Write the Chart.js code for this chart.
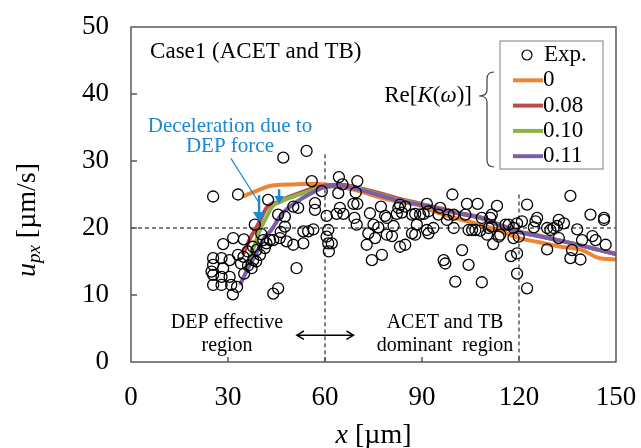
<!DOCTYPE html>
<html>
<head>
<meta charset="utf-8">
<script src="https://cdn.jsdelivr.net/npm/chart.js@4.4.1/dist/chart.umd.min.js"></script>
<style>
  body { margin: 0; background: #fff; }
  #wrap { width: 641px; height: 448px; }
</style>
</head>
<body>
<div id="wrap"><canvas id="myChart" width="641" height="448"></canvas></div>
<script>
// tick labels
const xTicks = [0, 30, 60, 90, 120, 150];
const yTicks = [0, 10, 20, 30, 40, 50];
const seriesLabels = ['Exp.', '0', '0.08', '0.10', '0.11'];

const expX = [25.4, 33.1, 25.4, 25.4, 24.9, 25.4, 25.4, 28.0, 28.5, 28.0, 28.0, 28.5, 30.5, 30.5, 31.0, 32.8, 31.5,
    31.6, 34.9, 33.1, 34.0, 35.0, 36.2, 37.3, 37.8, 34.8, 36.1, 37.7, 38.8, 39.9, 41.4, 38.7, 38.3, 40.3, 40.9,
    41.9, 43.0, 44.0, 46.0, 46.3, 48.1, 50.2, 53.3, 42.4, 47.1, 54.3, 55.9, 47.6, 47.6, 45.5, 50.2, 51.7, 51.2,
    44.0, 45.5, 53.3, 54.8, 56.4, 56.9, 56.9, 59.0,
    64.3, 65.4, 64.1, 70.0, 69.5, 68.8, 70.0, 64.6, 63.6, 65.7, 60.5, 69.1, 69.8, 73.9, 77.3, 78.6, 79.1, 75.0,
    76.5, 73.4, 75.5, 72.9, 79.1, 80.7, 81.2, 82.7, 82.2, 83.8, 83.2, 84.8, 86.9, 87.9, 89.4, 90.5, 88.4, 86.9,
    87.9, 83.2, 84.8, 74.5, 77.6, 61.0, 60.5, 61.0, 62.1, 61.2,
    99.4, 103.9, 107.2, 113.2, 91.5, 92.0, 95.6, 95.1, 98.2, 99.8, 97.7, 93.5, 92.0, 91.5, 99.8, 103.4, 108.5,
    111.1, 111.6, 111.6, 110.6, 104.4, 105.5, 106.5, 108.0, 110.1, 114.2, 113.7, 115.8, 116.8, 119.4, 118.3,
    118.3, 112.0, 102.4, 96.7, 97.2, 104.4, 117.5, 100.3, 108.5, 119.4, 135.9, 122.5, 120.9, 125.6, 125.1,
    124.6, 128.7, 129.7, 130.7, 131.8, 132.3, 133.9, 132.3, 128.7, 138.0, 139.5, 142.1, 142.7, 143.7, 146.3,
    146.3, 146.8, 136.4, 135.9, 139.0, 122.5, 119.4, 119.9];
const expY = [24.7, 25.0, 15.5, 14.5, 13.5, 13.0, 11.5, 15.5, 14.0, 12.7, 11.5, 17.6, 15.2, 12.7, 11.5, 11.2, 10.1,
    18.5, 18.3, 16.0, 14.7, 13.2, 14.4, 14.0, 15.2, 15.7, 16.5, 17.2, 16.7, 16.0, 17.0, 15.0, 20.5, 19.1, 18.2,
    17.7, 18.2, 18.2, 18.5, 19.4, 18.0, 17.5, 17.7, 24.2, 30.5, 31.5, 27.0, 21.7, 20.2, 22.0, 23.2, 23.0, 14.0,
    10.2, 11.0, 19.5, 19.5, 19.8, 23.7, 22.7, 25.5,
    27.6, 26.5, 25.2, 27.0, 25.3, 23.6, 23.6, 23.0, 22.1, 22.1, 21.8, 21.5, 20.5, 22.2, 23.2, 21.8, 21.5, 20.5,
    20.1, 19.2, 18.5, 17.5, 19.0, 18.8, 20.3, 23.0, 22.1, 22.3, 23.5, 23.2, 22.0, 22.1, 22.0, 22.1, 20.5, 19.2,
    19.0, 17.2, 17.5, 15.2, 16.0, 19.7, 18.7, 17.7, 17.7, 16.5,
    25.0, 23.6, 23.6, 23.3, 23.6, 22.5, 23.0, 22.0, 22.0, 22.0, 21.2, 20.0, 19.2, 19.7, 20.0, 22.0, 21.5,
    21.5, 22.0, 20.2, 20.0, 19.7, 19.7, 19.7, 19.6, 19.0, 19.0, 18.7, 20.5, 20.5, 20.7, 20.0,
    18.5, 17.6, 16.7, 15.2, 14.7, 14.5, 15.8, 12.0, 11.9, 13.2, 24.8, 23.5, 21.0, 21.5, 21.0,
    20.1, 20.0, 19.7, 20.0, 20.3, 21.2, 20.7, 18.5, 16.8, 19.8, 18.2, 22.0, 18.8, 18.2, 21.5,
    21.2, 17.5, 16.7, 15.5, 15.3, 11.0, 16.2, 18.7];

// simulation curves, Re[K(w)] = 0, 0.08, 0.10, 0.11
const k0X = [34.6, 38, 43.4, 50, 56, 60, 65, 70, 76, 82, 89, 92.5, 98, 104, 108, 114, 120, 126, 133, 139.5, 143.7, 146, 150];
const k0Y = [24.7, 25.4, 26.3, 26.5, 26.6, 26.5, 26.1, 25.6, 24.7, 24.0, 23.4, 22.7, 21.8, 21.0, 20.5, 19.6, 18.5, 17.9, 17.2, 16.7, 15.7, 15.4, 15.3];
const k008X = [34.6, 37, 39.5, 41.9, 43.5, 46, 48.1, 52, 56.9, 62, 66, 70, 76, 82, 88, 92.5, 100, 108, 114, 120, 126, 133.8, 140, 145, 150];
const k008Y = [16.0, 18.6, 20.7, 23.0, 23.6, 23.9, 24.5, 25.2, 26.0, 26.4, 26.4, 26.0, 25.3, 24.5, 23.8, 23.3, 22.4, 21.6, 20.5, 19.5, 18.9, 18.0, 17.3, 16.7, 16.1];
const k010X = [35.2, 37.5, 40, 42.3, 43.5, 46, 50.2, 54, 58, 62, 66, 70, 76, 82, 88, 92.5, 100, 108, 114, 120, 126, 133.8, 140, 145, 150];
const k010Y = [13.7, 16.5, 19.8, 22.0, 23.1, 23.9, 24.7, 25.3, 25.9, 26.2, 26.2, 25.9, 25.1, 24.3, 23.7, 23.2, 22.3, 21.5, 20.4, 19.4, 18.8, 18.0, 17.3, 16.7, 16.1];
const k011X = [33.7, 36.5, 38.2, 41, 43.4, 46.5, 50.6, 55.8, 60.4, 64, 70, 76, 82, 88, 92.5, 100, 108, 114, 120, 126, 133.8, 140, 145, 150];
const k011Y = [11.5, 14.3, 15.7, 18.4, 19.7, 22.0, 23.7, 25.2, 26.2, 26.3, 25.8, 25.0, 24.2, 23.6, 23.2, 22.3, 21.5, 20.4, 19.4, 18.8, 18.0, 17.3, 16.7, 16.1];

const SERIF = '"Liberation Serif", "Times New Roman", serif';
const BLUE = '#1b88d4';
const lineColors = ['#ef8432', '#be4b48', '#8db347', '#7b5ea7'];

function pts(xs, ys) {
    return xs.map((x, i) => ({ x: x, y: ys[i] }));
}

// draws pieces of text with different fonts one after the other
function richText(ctx, parts, x, y, align) {
    let w = 0;
    parts.forEach(p => { ctx.font = p.f; p.w = ctx.measureText(p.t).width; w += p.w; });
    let cx = x;
    if (align === 'center') cx = x - w / 2;
    if (align === 'right') cx = x - w;
    ctx.textAlign = 'left';
    ctx.textBaseline = 'middle';
    parts.forEach(p => { ctx.font = p.f; ctx.fillText(p.t, cx, y + (p.dy || 0)); cx += p.w; });
}

function arrowHead(ctx, x, y, dir, size, filled) {
    // dir: angle the arrow points to
    ctx.save();
    ctx.translate(x, y);
    ctx.rotate(dir);
    ctx.beginPath();
    ctx.moveTo(-size, -size * 0.6);
    ctx.lineTo(0, 0);
    ctx.lineTo(-size, size * 0.6);
    if (filled) { ctx.closePath(); ctx.fill(); } else { ctx.stroke(); }
    ctx.restore();
}

// keep the tick labels from pushing the plot area around
function noPad(s) {
    s.paddingLeft = 0;
    s.paddingRight = 0;
    s.paddingTop = 0;
    s.paddingBottom = 0;
}

const backPlugin = {
    id: 'back',
    beforeDatasetsDraw(chart) {
        const ctx = chart.ctx;
        const xs = chart.scales.x, ys = chart.scales.y;
        ctx.save();
        ctx.strokeStyle = '#000';
        ctx.lineWidth = 1;
        ctx.setLineDash([4, 3]);
        ctx.beginPath();
        ctx.moveTo(xs.getPixelForValue(0), ys.getPixelForValue(20));
        ctx.lineTo(xs.getPixelForValue(150), ys.getPixelForValue(20));
        ctx.moveTo(xs.getPixelForValue(60), ys.getPixelForValue(31));
        ctx.lineTo(xs.getPixelForValue(60), ys.getPixelForValue(0));
        ctx.moveTo(xs.getPixelForValue(120), ys.getPixelForValue(25));
        ctx.lineTo(xs.getPixelForValue(120), ys.getPixelForValue(0));
        ctx.stroke();
        ctx.restore();
    }
};

const frontPlugin = {
    id: 'front',
    afterDraw(chart) {
        const ctx = chart.ctx;
        const a = chart.chartArea;
        const xs = chart.scales.x, ys = chart.scales.y;
        const px = v => xs.getPixelForValue(v);
        const py = v => ys.getPixelForValue(v);
        ctx.save();

        // frame and inward ticks
        ctx.strokeStyle = '#595959';
        ctx.lineWidth = 1.5;
        ctx.strokeRect(a.left, a.top, a.right - a.left, a.bottom - a.top);
        ctx.beginPath();
        for (let i = 1; i < yTicks.length - 1; i++) {
            ctx.moveTo(a.left, py(yTicks[i]));
            ctx.lineTo(a.left + 6, py(yTicks[i]));
        }
        for (let i = 1; i < xTicks.length - 1; i++) {
            ctx.moveTo(px(xTicks[i]), a.bottom);
            ctx.lineTo(px(xTicks[i]), a.bottom - 5);
        }
        ctx.stroke();

        // axis titles
        ctx.fillStyle = '#000';
        richText(ctx, [
            { t: 'x', f: 'italic 28px ' + SERIF },
            { t: ' [µm]', f: '28px ' + SERIF }
        ], (a.left + a.right) / 2, 436, 'center');
        ctx.save();
        ctx.translate(28, 220);
        ctx.rotate(-Math.PI / 2);
        richText(ctx, [
            { t: 'u', f: 'italic 28px ' + SERIF },
            { t: 'px', f: 'italic 19px ' + SERIF, dy: 7 },
            { t: ' [µm/s]', f: '28px ' + SERIF }
        ], 0, 0, 'center');
        ctx.restore();

        // case label
        ctx.font = '23px ' + SERIF;
        ctx.textAlign = 'left';
        ctx.textBaseline = 'middle';
        ctx.fillText('Case1 (ACET and TB)', px(5.9), py(46.3));

        // region labels
        ctx.font = '20px ' + SERIF;
        ctx.textAlign = 'center';
        ctx.fillText('DEP effective', px(29.7), py(5.8));
        ctx.fillText('region', px(29.7), py(2.5));
        ctx.fillText('ACET and TB', px(97.1), py(5.8));
        ctx.fillText('dominant  region', px(97.1), py(2.5));
        ctx.strokeStyle = '#000';
        ctx.lineWidth = 1.5;
        ctx.beginPath();
        ctx.moveTo(px(51.3), py(4));
        ctx.lineTo(px(68.8), py(4));
        ctx.stroke();
        arrowHead(ctx, px(51.3), py(4), Math.PI, 7, false);
        arrowHead(ctx, px(68.8), py(4), 0, 7, false);

        // deceleration note
        ctx.fillStyle = BLUE;
        ctx.strokeStyle = BLUE;
        ctx.font = '21px ' + SERIF;
        ctx.textAlign = 'center';
        ctx.fillText('Deceleration due to', px(30.6), py(35.2));
        ctx.fillText('DEP force', px(30.6), py(32.1));
        ctx.lineWidth = 1.2;
        ctx.beginPath();
        ctx.moveTo(px(30.9), py(30.4));
        ctx.lineTo(px(39.3), py(24.0));
        ctx.stroke();
        ctx.lineWidth = 2.5;
        ctx.beginPath();
        ctx.moveTo(px(39.6), py(24.9));
        ctx.lineTo(px(39.6), py(22.2));
        ctx.moveTo(px(45.8), py(25.8));
        ctx.lineTo(px(45.8), py(24.5));
        ctx.stroke();
        arrowHead(ctx, px(39.6), py(20.9), Math.PI / 2, 10, true);
        arrowHead(ctx, px(45.8), py(23.6), Math.PI / 2, 8, true);

        // legend
        const lx = a.right - 116, ly = a.top + 14;
        ctx.strokeStyle = '#7f7f7f';
        ctx.lineWidth = 1;
        ctx.strokeRect(lx, ly, 103, 128);
        ctx.fillStyle = '#000';
        ctx.strokeStyle = '#000';
        ctx.lineWidth = 1.2;
        ctx.beginPath();
        ctx.arc(lx + 27, ly + 14, 5, 0, Math.PI * 2);
        ctx.stroke();
        ctx.font = '23px ' + SERIF;
        ctx.textAlign = 'left';
        ctx.fillText(seriesLabels[0], lx + 44, ly + 14);
        for (let i = 1; i < seriesLabels.length; i++) {
            const yy = ly + 14 + i * 25.3;
            ctx.strokeStyle = lineColors[i - 1];
            ctx.lineWidth = 4;
            ctx.beginPath();
            ctx.moveTo(lx + 13, yy);
            ctx.lineTo(lx + 43, yy);
            ctx.stroke();
            ctx.fillText(seriesLabels[i], lx + 43, yy);
        }

        // Re[K(w)] and brace
        richText(ctx, [
            { t: 'Re[', f: '23px ' + SERIF },
            { t: 'K', f: 'italic 23px ' + SERIF },
            { t: '(', f: '23px ' + SERIF },
            { t: 'ω', f: 'italic 23px ' + SERIF },
            { t: ')]', f: '23px ' + SERIF }
        ], lx - 28, ly + 55, 'right');
        const bx = lx - 13, bt = ly + 31, bm = ly + 55, bb = ly + 126;
        ctx.strokeStyle = '#404040';
        ctx.lineWidth = 1.2;
        ctx.beginPath();
        ctx.moveTo(bx + 7, bt);
        ctx.quadraticCurveTo(bx, bt, bx, bt + 7);
        ctx.lineTo(bx, bm - 6);
        ctx.quadraticCurveTo(bx, bm, bx - 8, bm);
        ctx.quadraticCurveTo(bx, bm, bx, bm + 6);
        ctx.lineTo(bx, bb - 7);
        ctx.quadraticCurveTo(bx, bb, bx + 7, bb);
        ctx.stroke();

        ctx.restore();
    }
};

const ctx = document.getElementById('myChart').getContext('2d');
const curveBase = { showLine: true, borderWidth: 4, pointRadius: 0, pointHoverRadius: 0, cubicInterpolationMode: 'monotone', fill: false };

new Chart(ctx, {
    type: 'scatter',
    data: {
        datasets: [
            { label: seriesLabels[0], data: pts(expX, expY), pointRadius: 5.5, pointBorderWidth: 1.3,
              borderColor: '#000', backgroundColor: 'rgba(0,0,0,0)', order: 0 },
            Object.assign({ label: seriesLabels[1], data: pts(k0X, k0Y), borderColor: lineColors[0], order: 4 }, curveBase),
            Object.assign({ label: seriesLabels[2], data: pts(k008X, k008Y), borderColor: lineColors[1], order: 3 }, curveBase),
            Object.assign({ label: seriesLabels[3], data: pts(k010X, k010Y), borderColor: lineColors[2], order: 2 }, curveBase),
            Object.assign({ label: seriesLabels[4], data: pts(k011X, k011Y), borderColor: lineColors[3], order: 1 }, curveBase)
        ]
    },
    options: {
        responsive: false,
        animation: false,
        devicePixelRatio: 1,
        layout: { padding: { left: 0, right: 25, top: 27, bottom: 0 } },
        plugins: { legend: { display: false }, tooltip: { enabled: false } },
        scales: {
            x: {
                type: 'linear', min: 0, max: 150,
                afterBuildTicks: s => { s.ticks = xTicks.map(v => ({ value: v })); },
                ticks: { color: '#000', padding: 20, maxRotation: 0, font: { family: SERIF, size: 27 } },
                grid: { display: false, drawTicks: false },
                border: { display: false },
                afterFit: s => { s.height = 86; noPad(s); }
            },
            y: {
                type: 'linear', min: 0, max: 50,
                afterBuildTicks: s => { s.ticks = yTicks.map(v => ({ value: v })); },
                ticks: { color: '#000', padding: 22, font: { family: SERIF, size: 27 } },
                grid: { display: false, drawTicks: false },
                border: { display: false },
                afterFit: s => { s.width = 131; noPad(s); }
            }
        }
    },
    plugins: [backPlugin, frontPlugin]
});
</script>
</body>
</html>
